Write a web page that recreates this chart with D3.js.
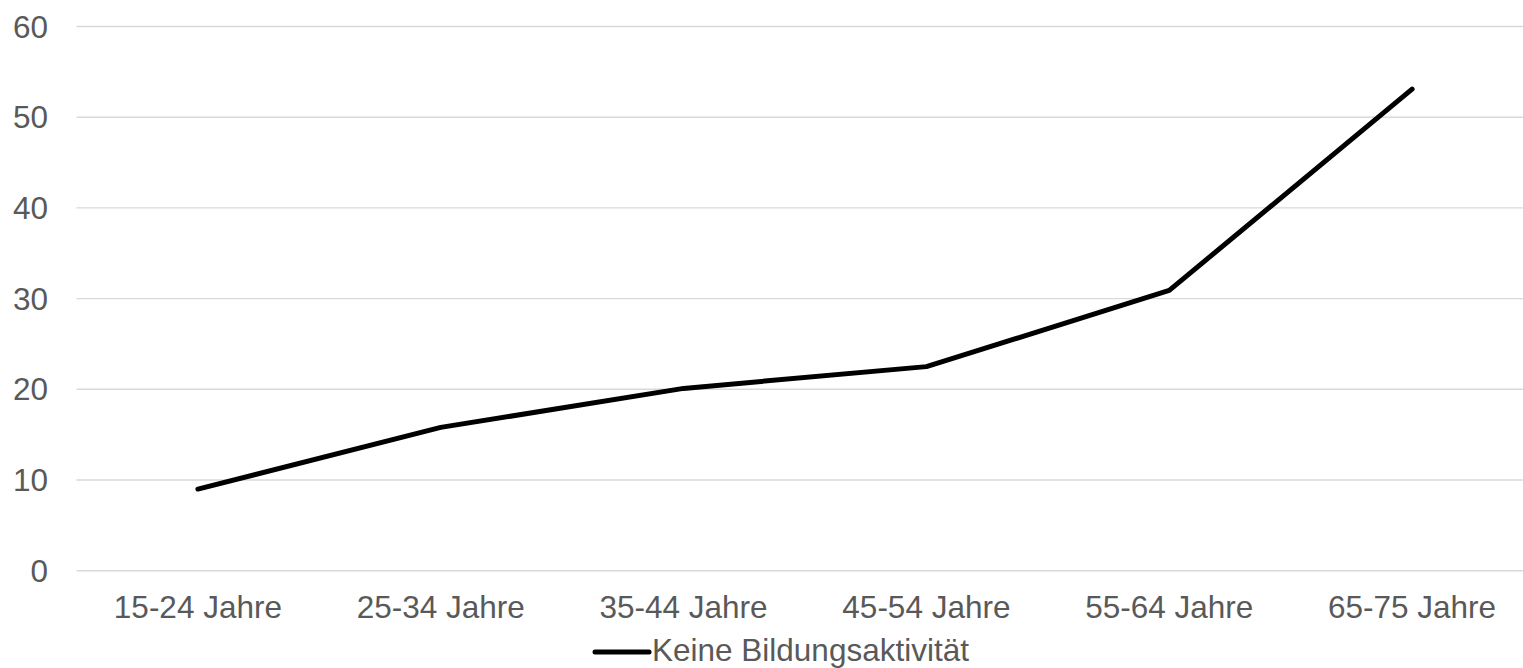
<!DOCTYPE html>
<html>
<head>
<meta charset="utf-8">
<script src="https://cdn.jsdelivr.net/npm/d3@7"></script>
<style>
  html, body { margin: 0; padding: 0; background: #fff; }
  svg text { font-family: "Liberation Sans", Arial, sans-serif; fill: #595959; }
</style>
</head>
<body>
<div id="chart"></div>
<script>
// data
var categories = ['15-24 Jahre', '25-34 Jahre', '35-44 Jahre', '45-54 Jahre', '55-64 Jahre', '65-75 Jahre'];
var values = [9.0, 15.8, 20.1, 22.5, 30.9, 53.1];
var yTicks = [0, 10, 20, 30, 40, 50, 60];
var seriesName = 'Keine Bildungsaktivität';

var width = 1523, height = 668;
var fontSize = '31.5px';

var svg = d3.select('#chart').append('svg')
    .attr('width', width)
    .attr('height', height);

var x = d3.scaleBand()
    .domain(categories)
    .range([76.5, 1533.5]);

var y = d3.scaleLinear()
    .domain([0, 60])
    .range([570.7, 26.5]);

// gridlines
svg.append('g').selectAll('line')
    .data(yTicks)
    .enter().append('line')
    .attr('x1', 76.5)
    .attr('x2', width)
    .attr('y1', d => y(d))
    .attr('y2', d => y(d))
    .attr('stroke', '#d9d9d9')
    .attr('stroke-width', 1.4);

// y labels
svg.append('g').selectAll('text')
    .data(yTicks)
    .enter().append('text')
    .attr('x', 48)
    .attr('y', d => y(d))
    .attr('dy', '0.35em')
    .style('font-size', fontSize)
    .style('text-anchor', 'end')
    .text(d => d);

// x labels
svg.append('g').selectAll('text')
    .data(categories)
    .enter().append('text')
    .attr('x', d => x(d) + x.bandwidth() / 2)
    .attr('y', 618)
    .style('font-size', fontSize)
    .style('text-anchor', 'middle')
    .text(d => d);

// the line
var line = d3.line()
    .x((d, i) => x(categories[i]) + x.bandwidth() / 2)
    .y(d => y(d));

svg.append('path')
    .datum(values)
    .attr('d', line)
    .attr('fill', 'none')
    .attr('stroke', '#000')
    .attr('stroke-width', 5)
    .attr('stroke-linecap', 'round')
    .attr('stroke-linejoin', 'round');

// legend
var legend = svg.append('g');
legend.append('line')
    .attr('x1', 595)
    .attr('x2', 649)
    .attr('y1', 652)
    .attr('y2', 652)
    .attr('stroke', '#000')
    .attr('stroke-width', 5)
    .attr('stroke-linecap', 'round');
legend.append('text')
    .attr('x', 652)
    .attr('y', 661)
    .style('font-size', fontSize)
    .text(seriesName);
</script>
</body>
</html>
